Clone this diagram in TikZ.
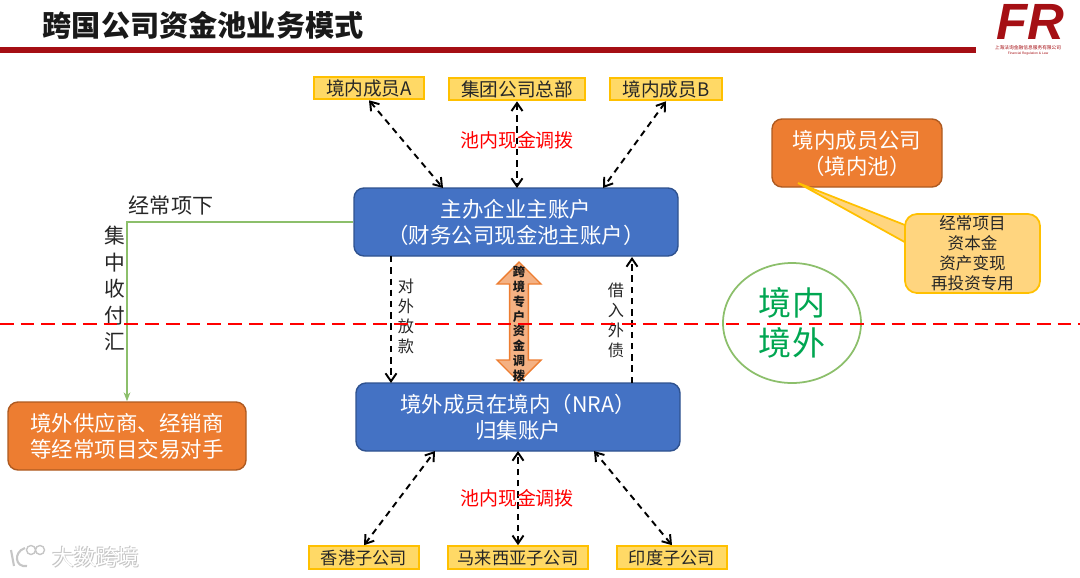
\documentclass[tikz,border=0pt]{standalone}
\usepackage{fontspec}
\setmainfont{Noto Sans CJK SC}
\newfontfamily\logofont{Liberation Sans}
\usetikzlibrary{
    arrows.meta,
    shapes.arrows,
    shapes.geometric
}
\definecolor{barred}{HTML}{A50F14}
\definecolor{boxblue}{HTML}{4472C4}
\definecolor{boxblueline}{HTML}{2F528F}
\definecolor{boxorange}{HTML}{ED7D31}
\definecolor{boxorangeline}{HTML}{AE5A21}
\definecolor{memberfill}{HTML}{FFD966}
\definecolor{memberline}{HTML}{FFC000}
\definecolor{notefill}{HTML}{FFD57F}
\definecolor{arrowfill}{HTML}{F4B183}
\definecolor{flowgreen}{HTML}{8CBF6B}
\definecolor{zonegreen}{HTML}{00A651}
\tikzset{
    member/.style={draw=memberline, fill=memberfill, line width=0.6pt, text=black!85, inner sep=0pt, minimum height=0.225cm, font=\fontsize{5.3}{6.5}\selectfont},
    bluebox/.style={draw=boxblueline, fill=boxblue, text=white, rounded corners=0.1cm, line width=0.4pt, inner sep=0pt, minimum width=3.24cm, minimum height=0.68cm, align=center, font=\fontsize{6.1}{7.4}\selectfont},
    orangebox/.style={draw=boxorangeline, fill=boxorange, text=white, rounded corners=0.1cm, line width=0.4pt, inner sep=0pt, minimum height=0.68cm, align=center, font=\fontsize{6.1}{7.4}\selectfont},
    linkline/.style={line width=0.55pt, dash pattern=on 1.8pt off 1.4pt, {Straight Barb[length=0.08cm, width=0.11cm]}-{Straight Barb[length=0.08cm, width=0.11cm]}},
    oneway/.style={line width=0.55pt, dash pattern=on 1.8pt off 1.4pt, -{Straight Barb[length=0.08cm, width=0.11cm]}},
    redlabel/.style={text=red, inner sep=0pt, font=\fontsize{5.4}{6.5}\selectfont},
    stacklabel/.style={inner sep=0pt, text=black!85, align=center, font=\fontsize{4.6}{5.7}\selectfont},
    shadelabel/.style={inner sep=0pt, text=gray!45, font=\fontsize{6.2}{7}\selectfont}
}
\begin{document}
\begin{tikzpicture}
    \useasboundingbox (0, 0) rectangle (10.8, -5.77);

    % header
    \fill[barred] (0, -0.47) rectangle (9.76, -0.525);
    \node[inner sep=0pt, anchor=west, text=black!90, font=\fontsize{8.3}{10}\selectfont\bfseries] (title) at (0.42, -0.25) {跨国公司资金池业务模式};
    \node[inner sep=0pt, text=barred, font=\logofont\fontsize{14.5}{16}\selectfont\bfseries\itshape] (logo) at (10.3, -0.22) {FR};
    \node[inner sep=0pt, text=barred, font=\fontsize{1.35}{2}\selectfont] (logocn) at (10.28, -0.475) {上海法询金融信息服务有限公司};
    \node[inner sep=0pt, text=barred, font=\logofont\fontsize{0.95}{2}\selectfont] (logoen) at (10.28, -0.535) {Financial Regulation \& Law};

    % top row
    \node[member, minimum width=1.1cm] (ma) at (3.69, -0.88) {境内成员A};
    \node[member, minimum width=1.36cm] (hq) at (5.17, -0.89) {集团公司总部};
    \node[member, minimum width=1.12cm] (mb) at (6.66, -0.89) {境内成员B};

    % main accounts
    \node[bluebox] (main) at (5.16, -2.22) {主办企业主账户\\（财务公司现金池主账户）};
    \node[bluebox] (nra) at (5.18, -4.17) {境外成员在境内（NRA）\\归集账户};
    \coordinate (mainl) at (4.43, -1.88);
    \coordinate (mainr) at (6.03, -1.88);
    \coordinate (mainc) at (5.17, -1.88);
    \coordinate (mainout) at (3.91, -2.56);
    \coordinate (mainin) at (6.32, -2.57);
    \coordinate (nraout) at (3.91, -3.83);
    \coordinate (nrain) at (6.32, -3.83);
    \coordinate (nral) at (4.35, -4.51);
    \coordinate (nrac) at (5.18, -4.51);
    \coordinate (nrar) at (5.94, -4.51);

    % bottom row
    \node[member, minimum width=1.1cm, font=\fontsize{4.9}{6}\selectfont] (hk) at (3.64, -5.575) {香港子公司};
    \node[member, minimum width=1.4cm, font=\fontsize{4.9}{6}\selectfont] (my) at (5.18, -5.575) {马来西亚子公司};
    \node[member, minimum width=1.1cm, font=\fontsize{4.9}{6}\selectfont] (in) at (6.72, -5.575) {印度子公司};

    % right side
    \node[orangebox, minimum width=1.7cm] (pool) at (8.57, -1.53) {境内成员公司\\（境内池）};
    \coordinate (pooltip) at (7.98, -1.83);
    \fill[notefill] (pooltip) -- (9.1, -2.27) -- (9.1, -2.45) -- cycle;
    \draw[memberline, line width=0.5pt] (9.1, -2.27) -- (pooltip) -- (9.1, -2.45);
    \node[draw=memberline, fill=notefill, rounded corners=0.12cm, line width=0.5pt, inner sep=0pt, minimum width=1.35cm, minimum height=0.79cm, align=center, text=black!85, font=\fontsize{4.7}{5.7}\selectfont] (note) at (9.725, -2.535) {经常项目\\资本金\\资产变现\\再投资专用};
    \node[ellipse, draw=flowgreen, line width=0.5pt, inner sep=0pt, minimum width=1.38cm, minimum height=1.2cm, text=zonegreen, align=center, font=\fontsize{9.4}{11.6}\selectfont] (zone) at (7.92, -3.23) {境内\\境外};

    % left side
    \node[orangebox, minimum width=2.38cm] (supplier) at (1.27, -4.36) {境外供应商、经销商\\等经常项目交易对手};

    % centre transfer arrow
    \node[double arrow, draw=boxorange, fill=arrowfill, line width=0.4pt, rotate=90, minimum height=1.2cm, minimum width=0.44cm, double arrow head extend=0.105cm, inner sep=0.07cm] (xfer) at (5.19, -3.22) {};
    \node[inner sep=0pt, align=center, text=black!90, font=\fontsize{3.5}{4.2}\selectfont\bfseries] (xferlabel) at (5.19, -3.24) {跨\\境\\专\\户\\资\\金\\调\\拨};

    \draw
    (ma.south) edge[linkline] (mainl)
    (hq.south) edge[linkline] (mainc)
    (mb.south) edge[linkline] (mainr)
    (hk.north) edge[linkline] (nral)
    (my.north) edge[linkline] (nrac)
    (in.north) edge[linkline] (nrar)
    (mainout) edge[oneway] (nraout)
    (nrain) edge[oneway] (mainin);
    \draw[flowgreen, line width=0.6pt, -{Stealth[length=0.09cm]}] (main.west) -| (supplier.north);

    % labels
    \node[inner sep=0pt, text=black!85, font=\fontsize{6}{7}\selectfont] (itemlabel) at (1.71, -2.05) {经常项下};
    \node[inner sep=0pt, text=black!85, align=center, font=\fontsize{5.9}{7.55}\selectfont] (collect) at (1.15, -2.885) {集\\中\\收\\付\\汇};
    \node[stacklabel] (lend) at (4.06, -3.16) {对\\外\\放\\款};
    \node[stacklabel] (borrow) at (6.16, -3.2) {借\\入\\外\\债};
    \node[redlabel] (pooltop) at (5.17, -1.4) {池内现金调拨};
    \node[redlabel] (poolbottom) at (5.17, -4.98) {池内现金调拨};

    % border line
    \coordinate (borderl) at (0, -3.24);
    \coordinate (borderr) at (10.8, -3.24);
    \draw[red, line width=0.55pt, dash pattern=on 3.9pt off 2pt] (borderl) -- (borderr);

    % watermark
    \draw[gray!45, line width=0.6pt] (0.11, -5.5) -- (0.14, -5.66) (0.25, -5.48) .. controls (0.13, -5.52) and (0.15, -5.68) .. (0.27, -5.66);
    \draw[gray!45, line width=0.4pt] (0.31, -5.5) circle (0.045) (0.4, -5.5) circle (0.045);
    \node[shadelabel] (markshade) at (0.97, -5.58) {大数跨境};
    \node[shadelabel] (markshadeb) at (0.95, -5.56) {大数跨境};
    \node[inner sep=0pt, text=white, font=\fontsize{6.2}{7}\selectfont] (mark) at (0.96, -5.57) {大数跨境};
\end{tikzpicture}
\end{document}
